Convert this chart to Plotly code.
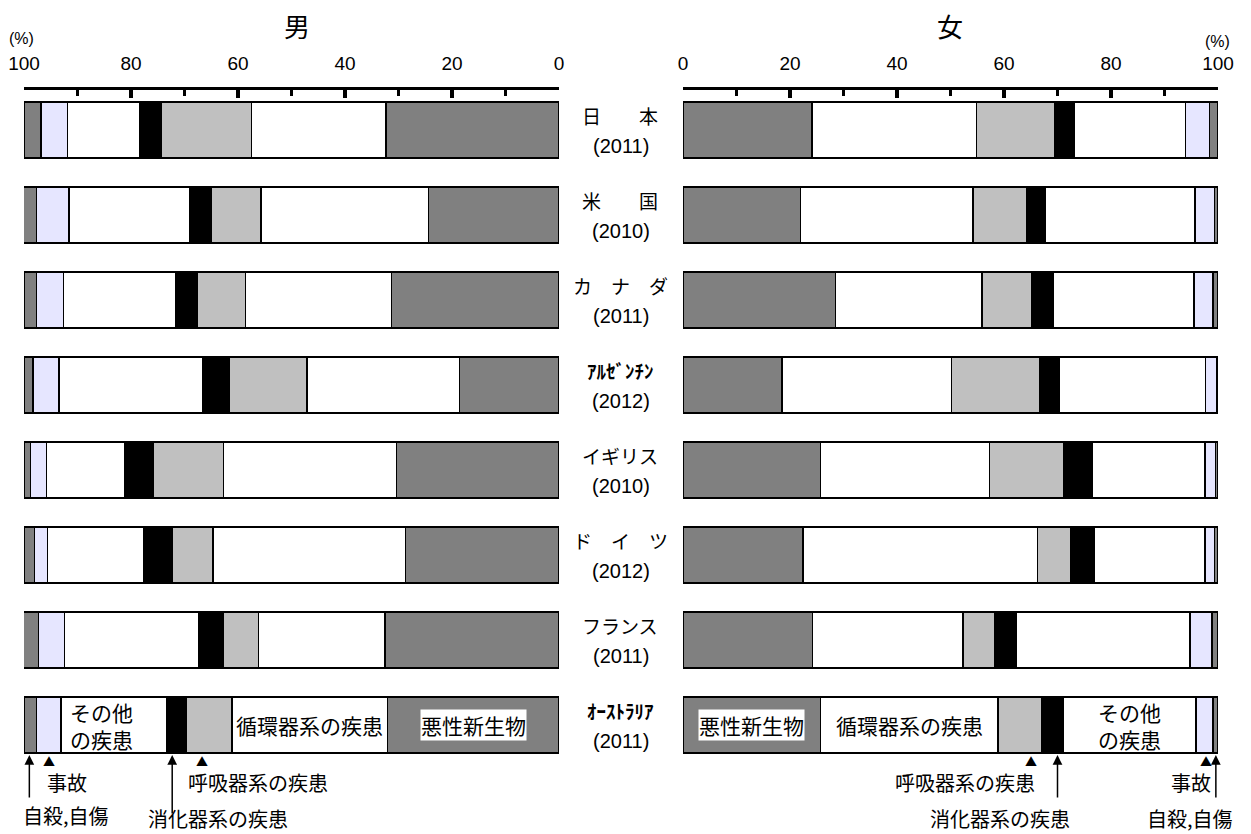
import plotly.graph_objects as go

W, H = 1251, 834
OFF = 8  # page body margin of the browser

countries = ["日　　本", "米　　国", "カ　ナ　ダ", "<b>ｱﾙｾﾞﾝﾁﾝ</b>", "イギリス", "ド　イ　ツ", "フランス", "<b>ｵｰｽﾄﾗﾘｱ</b>"]
years = ["(2011)", "(2010)", "(2011)", "(2012)", "(2010)", "(2012)", "(2011)", "(2011)"]
causes = ["悪性新生物", "循環器系の疾患", "呼吸器系の疾患", "消化器系の疾患", "その他の疾患", "事故", "自殺,自傷"]
colors = ["#808080", "#FFFFFF", "#C0C0C0", "#000000", "#FFFFFF", "#E6E6FF", "#808080"]

male_cancer      = [32.3, 24.4, 31.3, 18.6, 30.4, 28.7, 32.5, 32.1]
male_circulatory = [25.2, 31.3, 27.3, 28.5, 32.3, 36.0, 23.7, 29.0]
male_respiratory = [16.9, 9.3, 9.0, 14.6, 13.1, 7.6, 6.5, 8.6]
male_digestive   = [3.9, 4.0, 4.1, 4.9, 5.3, 5.3, 4.6, 3.7]
male_other       = [13.6, 22.6, 20.9, 26.9, 14.7, 18.0, 25.1, 19.7]
male_accident    = [4.9, 6.1, 5.1, 4.8, 3.0, 2.4, 4.9, 4.6]
male_suicide     = [3.1, 2.4, 2.3, 1.6, 1.2, 1.9, 2.8, 2.3]

female_cancer      = [24.1, 22.0, 28.5, 18.5, 25.7, 22.4, 24.2, 25.7]
female_circulatory = [30.8, 32.2, 27.4, 31.7, 31.6, 43.9, 28.1, 33.2]
female_respiratory = [14.6, 10.0, 9.2, 16.4, 13.8, 6.1, 6.0, 8.2]
female_digestive   = [3.7, 3.6, 4.1, 3.7, 5.4, 4.5, 4.0, 3.9]
female_other       = [20.7, 27.9, 26.3, 27.4, 21.1, 20.7, 32.5, 24.9]
female_accident    = [4.5, 3.6, 3.6, 2.1, 1.9, 1.7, 4.1, 3.2]
female_suicide     = [1.6, 0.7, 0.9, 0.3, 0.5, 0.7, 1.1, 0.9]

male = [male_cancer, male_circulatory, male_respiratory, male_digestive, male_other, male_accident, male_suicide]
female = [female_cancer, female_circulatory, female_respiratory, female_digestive, female_other, female_accident, female_suicide]

tick_vals = [0, 20, 40, 60, 80, 100]
minor_vals = [10, 30, 50, 70, 90]

FONT = "Liberation Sans, Arial, Noto Sans CJK JP, sans-serif"
JFONT = "Noto Sans CJK JP, Liberation Sans, sans-serif"

def px(x):
    return (x - OFF) / W

def py(y):
    return 1 - (y - OFF) / H

ypos = list(range(len(countries)))

fig = go.Figure()
for i, name in enumerate(causes):
    fig.add_trace(go.Bar(
        y=ypos, x=male[i], orientation="h", name=name, xaxis="x", yaxis="y",
        marker=dict(color=colors[i], line=dict(color="black", width=1.5)),
        width=0.66, showlegend=False, hoverinfo="skip"))
for i, name in enumerate(causes):
    fig.add_trace(go.Bar(
        y=ypos, x=female[i], orientation="h", name=name, xaxis="x2", yaxis="y",
        marker=dict(color=colors[i], line=dict(color="black", width=1.5)),
        width=0.66, showlegend=False, hoverinfo="skip"))

axis_common = dict(
    side="top", anchor="y", showline=True, linewidth=3, linecolor="black",
    ticks="inside", ticklen=8, tickwidth=4, tickcolor="black",
    tickvals=tick_vals, showgrid=False, zeroline=False, automargin=False,
    tickfont=dict(family=FONT, size=19, color="black"),
    ticklabelstandoff=9,
    minor=dict(tickvals=minor_vals, ticks="inside", ticklen=6, tickwidth=3,
               tickcolor="black", showgrid=False),
)

fig.update_layout(
    width=W, height=H,
    margin=dict(l=0, r=0, t=0, b=0, autoexpand=False),
    paper_bgcolor="white", plot_bgcolor="white",
    barmode="stack",
    xaxis=dict(domain=[px(24), px(559)], range=[100, 0], **axis_common),
    xaxis2=dict(domain=[px(683), px(1218)], range=[0, 100], **axis_common),
    yaxis=dict(domain=[py(765), py(90)], range=[7.47, -0.47], visible=False, automargin=False),
    font=dict(family=FONT, color="black"),
)

ann = []

def text_ann(x, y, t, size, family=JFONT, xref="paper", yref="paper", **kw):
    d = dict(x=x, y=y, xref=xref, yref=yref, text=t, showarrow=False,
             xanchor="center", yanchor="middle", font=dict(family=family, size=size, color="black"))
    d.update(kw)
    ann.append(d)

# titles
text_ann(px(297), py(26), "男", 26, borderpad=0)
text_ann(px(950), py(26), "女", 26, borderpad=0)
text_ann(px(21), py(39), "(%)", 16, family=FONT)
text_ann(px(1217), py(42), "(%)", 16, family=FONT)

# country labels
for i, (c, yr) in enumerate(zip(countries, years)):
    text_ann(px(620), i - 0.17, c, 19, yref="y")
    text_ann(px(621), i + 0.19, yr, 20, family=FONT, yref="y")

# labels inside the last (Australia) bar
k = len(countries) - 1
def seg_center(series, idx, j):
    start = sum(s[j] for s in series[:idx])
    return start + series[idx][j] / 2

text_ann(seg_center(male, 0, k), k, "悪性新生物", 21, xref="x", yref="y", bgcolor="white", borderpad=0)
text_ann(seg_center(male, 1, k), k, "循環器系の疾患", 21, xref="x", yref="y")
text_ann(85.5, k, "その他<br>の疾患", 21, xref="x", yref="y")
text_ann(seg_center(female, 0, k), k, "悪性新生物", 21, xref="x2", yref="y", bgcolor="white", borderpad=0)
text_ann(seg_center(female, 1, k), k, "循環器系の疾患", 21, xref="x2", yref="y")
text_ann(seg_center(female, 4, k), k, "その他<br>の疾患", 21, xref="x2", yref="y")

bar_bottom = k + 0.33
# arrows (long) and triangles (short markers)
arrows = [("x", 99.0, 46), ("x", 72.3, 62), ("x2", 70.0, 46), ("x2", 99.6, 46)]
for xr, xv, length in arrows:
    ann.append(dict(x=xv, y=bar_bottom, xref=xr, yref="y", ax=0, ay=length, text="",
                    showarrow=True, arrowhead=2, arrowsize=1.3, arrowwidth=1.5, arrowcolor="black",
                    standoff=2))
tris = [("x", 95.4), ("x", 66.8), ("x2", 65.0), ("x2", 97.8)]
for xr, xv in tris:
    text_ann(xv, py(761), "▲", 12, xref=xr, borderpad=0)

# bottom labels
bottom = [
    (67, 782, "事故"), (66, 815, "自殺,自傷"), (258, 782, "呼吸器系の疾患"), (218, 818, "消化器系の疾患"),
    (965, 782, "呼吸器系の疾患"), (1000, 818, "消化器系の疾患"), (1191, 782, "事故"), (1190, 818, "自殺,自傷"),
]
for x, y, t in bottom:
    text_ann(px(x), py(y), t, 20)

fig.update_layout(annotations=ann)
fig.write_html("out.html")
